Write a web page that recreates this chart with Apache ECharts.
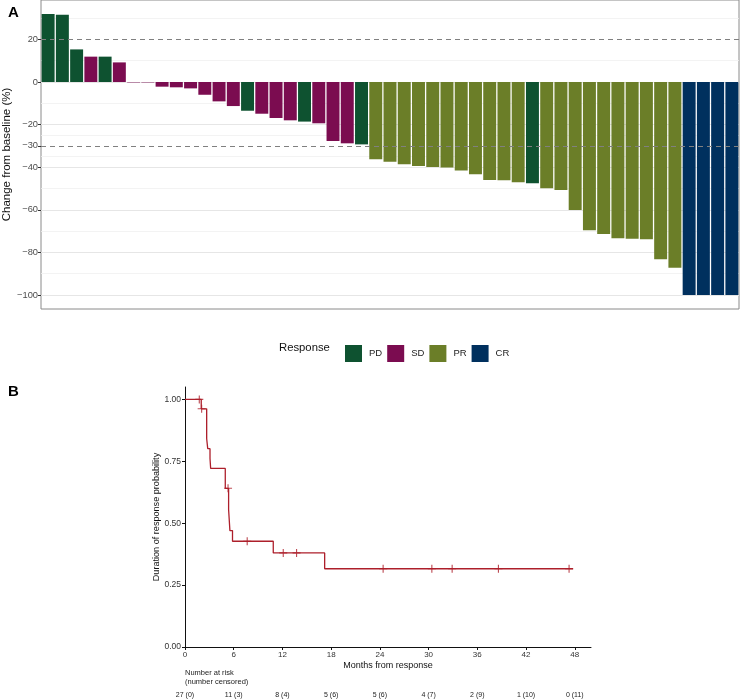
<!DOCTYPE html>
<html>
<head>
<meta charset="utf-8">
<script src="https://cdn.jsdelivr.net/npm/echarts@6/dist/echarts.min.js"></script>
<style>
html,body{margin:0;padding:0;background:#fff;}
#chart{width:740px;height:700px;}
</style>
</head>
<body>
<div id="chart"></div>
<script>
// ---------- Panel A data ----------
var pctChange = [31.9, 31.6, 15.3, 11.9, 11.9, 9.2, -0.2, -0.2, -2.2, -2.5, -3.0, -6.0, -9.1, -11.3, -13.5,
  -14.9, -16.9, -18.0, -18.6, -19.4, -27.7, -28.8, -29.3, -36.3, -37.4, -38.6, -39.4, -39.9, -40.2, -41.6,
  -43.3, -46.0, -46.2, -47.1, -47.6, -49.9, -50.7, -60.1, -69.6, -71.4, -73.4, -73.6, -73.9, -83.2, -87.2,
  -100, -100, -100, -100];
var response = ['PD','PD','PD','SD','PD','SD','SD','SD','SD','SD','SD','SD','SD','SD','PD',
  'SD','SD','SD','PD','SD','SD','SD','PD','PR','PR','PR','PR','PR','PR','PR',
  'PR','PR','PR','PR','PD','PR','PR','PR','PR','PR','PR','PR','PR','PR','PR',
  'CR','CR','CR','CR'];
var responseTypes = ['PD','SD','PR','CR'];
var responseColors = {PD:'#0e5230', SD:'#7b0c50', PR:'#6b7e28', CR:'#00305e'};
var yTicksA = [20, 0, -20, -30, -40, -60, -80, -100];
var yMinorA = [30, 10, -10, -25, -35, -50, -70, -90];
var refLinesA = [20, -30];

// ---------- Panel B data ----------
var kmTime = [0, 2.0, 2.67, 2.8, 3.08, 3.16, 4.96, 5.37, 5.53, 5.85, 10.87, 17.2, 47.8];
var kmSurv = [1.0, 0.962, 0.841, 0.801, 0.761, 0.721, 0.641, 0.555, 0.470, 0.427, 0.380, 0.316, 0.316];
var censorTime = [1.76, 2.05, 5.3, 7.66, 12.1, 13.74, 24.4, 30.4, 32.9, 38.6, 47.3];
var censorSurv = [1.0, 0.962, 0.641, 0.427, 0.380, 0.380, 0.316, 0.316, 0.316, 0.316, 0.316];
var xTicksB = [0, 6, 12, 18, 24, 30, 36, 42, 48];
var yTicksB = [0, 0.25, 0.5, 0.75, 1.0];
var riskLabels = ['27 (0)', '11 (3)', '8 (4)', '5 (6)', '5 (6)', '4 (7)', '2 (9)', '1 (10)', '0 (11)'];

var FONT = '"Liberation Sans", Arial, Helvetica, sans-serif';
var categories = pctChange.map(function (_, i) { return String(i + 1); });

var barSeries = responseTypes.map(function (t, k) {
  var s = {
    name: t,
    type: 'bar',
    stack: 'resp',
    xAxisIndex: 0, yAxisIndex: 0,
    barWidth: '91%',
    itemStyle: { color: responseColors[t] },
    data: pctChange.map(function (v, i) { return response[i] === t ? v : '-'; }),
    animation: false
  };
  if (k === 0) {
    s.markLine = {
      silent: true, z: 1, symbol: ['none', 'none'], label: { show: false }, animation: false,
      data: yTicksA.filter(function (v) { return refLinesA.indexOf(v) < 0; }).map(function (v) {
        return { yAxis: v, lineStyle: { color: '#e6e6e6', width: 1.1, type: 'solid' } };
      }).concat(yMinorA.map(function (v) {
        return { yAxis: v, lineStyle: { color: '#f0f0f0', width: 0.8, type: 'solid' } };
      }))
    };
  }
  if (k === 3) {
    s.markLine = {
      silent: true, symbol: ['none', 'none'], label: { show: false }, animation: false,
      lineStyle: { color: '#808080', width: 1.1, type: [5, 4] },
      data: refLinesA.map(function (v) { return { yAxis: v }; })
    };
  }
  return s;
});

var plusPath = 'path://M4.3,0 h1.4 v4.3 h4.3 v1.4 h-4.3 v4.3 h-1.4 v-4.3 h-4.3 v-1.4 h4.3 z';
var kmColor = '#ad1f2b';

var option = {
  animation: false,
  textStyle: { fontFamily: FONT },
  grid: [
    { left: 41, top: 0, width: 698, height: 309, show: true, borderColor: '#8a8a8a', borderWidth: 1,
      backgroundColor: 'transparent', containLabel: false, outerBoundsMode: 'none' },
    { left: 185, top: 387, width: 406, height: 260, containLabel: false, outerBoundsMode: 'none' },
    { left: 185, top: 680, width: 406, height: 10, containLabel: false, outerBoundsMode: 'none' }
  ],
  legend: {
    data: responseTypes,
    left: 340, top: 340,
    itemWidth: 17, itemHeight: 17, itemGap: 5,
    icon: 'rect',
    textStyle: { fontSize: 9.5, color: '#222', fontFamily: FONT, padding: [0, 0, 0, 2] },
    selectedMode: false
  },
  xAxis: [
    { type: 'category', gridIndex: 0, data: categories, boundaryGap: true,
      axisLine: { show: false }, axisTick: { show: false }, axisLabel: { show: false }, splitLine: { show: false } },
    { type: 'value', gridIndex: 1, min: 0, max: 50,
      name: 'Months from response', nameLocation: 'middle', nameGap: 14, nameMoveOverlap: false,
      nameTextStyle: { fontSize: 9, color: '#111', fontFamily: FONT },
      axisLine: { show: true, onZero: false, lineStyle: { color: '#111', width: 1 } },
      axisTick: { show: true, length: 3, customValues: xTicksB, lineStyle: { color: '#111' } },
      axisLabel: { customValues: xTicksB, fontSize: 8, color: '#333', margin: 4, fontFamily: FONT },
      splitLine: { show: false } },
    { type: 'value', gridIndex: 2, min: 0, max: 50,
      axisLine: { show: false }, axisTick: { show: false },
      axisLabel: { customValues: xTicksB, fontSize: 7, color: '#222', margin: 2, fontFamily: FONT,
        formatter: function (v) { var i = xTicksB.indexOf(v); return i >= 0 ? riskLabels[i] : ''; } },
      splitLine: { show: false } }
  ],
  yAxis: [
    { type: 'value', gridIndex: 0, min: -106.6, max: 38.5,
      name: 'Change from baseline (%)', nameLocation: 'middle', nameGap: 28, nameMoveOverlap: false,
      nameTextStyle: { fontSize: 11.5, color: '#111', fontFamily: FONT },
      axisLine: { show: false },
      axisTick: { show: true, length: 3, customValues: yTicksA, lineStyle: { color: '#333' } },
      axisLabel: { customValues: yTicksA, fontSize: 9.3, color: '#4d4d4d', margin: 3, fontFamily: FONT,
        formatter: function (v) { return String(v).replace('-', '\u2212'); } },
      splitLine: { show: false } },
    { type: 'value', gridIndex: 1, min: 0, max: 1.05,
      name: 'Duration of response probability', nameLocation: 'middle', nameGap: 24, nameMoveOverlap: false,
      nameTextStyle: { fontSize: 9.1, color: '#111', fontFamily: FONT },
      axisLine: { show: true, onZero: false, lineStyle: { color: '#111', width: 1 } },
      axisTick: { show: true, length: 3, customValues: yTicksB, lineStyle: { color: '#111' } },
      axisLabel: { customValues: yTicksB, fontSize: 8.5, color: '#333', margin: 4, fontFamily: FONT,
        formatter: function (v) { return v.toFixed(2); } },
      splitLine: { show: false } },
    { type: 'value', gridIndex: 2, min: 0, max: 1, show: false }
  ],
  graphic: [
    { type: 'text', left: 8, top: 5, style: { text: 'A', font: 'bold 15px ' + FONT, fill: '#000' } },
    { type: 'text', left: 8, top: 384, style: { text: 'B', font: 'bold 15px ' + FONT, fill: '#000' } },
    { type: 'text', left: 279, top: 342, style: { text: 'Response', font: '11.3px ' + FONT, fill: '#111' } },
    { type: 'text', left: 185, top: 669, style: { text: 'Number at risk', font: '7.5px ' + FONT, fill: '#222' } },
    { type: 'text', left: 185, top: 678, style: { text: '(number censored)', font: '7.5px ' + FONT, fill: '#222' } }
  ],
  series: barSeries.concat([
    { name: 'KM', type: 'line', xAxisIndex: 1, yAxisIndex: 1, step: 'end', showSymbol: false, symbol: 'none',
      lineStyle: { color: kmColor, width: 1.3 },
      data: kmTime.map(function (t, i) { return [t, kmSurv[i]]; }), z: 3 },
    { name: 'Censored', type: 'scatter', xAxisIndex: 1, yAxisIndex: 1, symbol: plusPath, symbolSize: 8,
      itemStyle: { color: kmColor },
      data: censorTime.map(function (t, i) { return [t, censorSurv[i]]; }), z: 4 }
  ])
};

var chart = echarts.init(document.getElementById('chart'), null, { renderer: 'canvas' });
chart.setOption(option);
</script>
</body>
</html>
